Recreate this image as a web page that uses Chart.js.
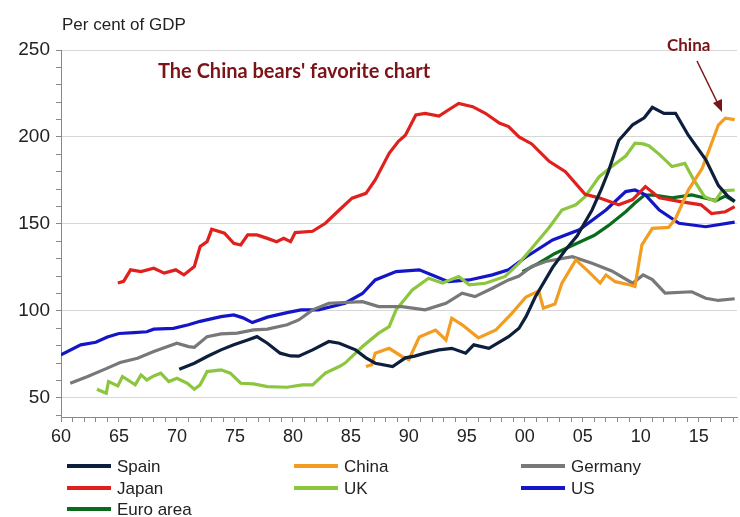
<!DOCTYPE html>
<html>
<head>
<meta charset="utf-8">
<script src="https://cdn.jsdelivr.net/npm/chart.js@4"></script>
<style>
  body { margin: 0; background: #fff; }
  #wrap { width: 740px; height: 517px; }
</style>
</head>
<body>
<div id="wrap"><canvas id="chart" width="740" height="517"></canvas></div>
<script>
// Debt of the non-financial private sector, per cent of GDP [year, value]
const spain = [[1970.2,66.5],[1971.5,69.9],[1972.6,73.8],[1973.8,77.6],[1974.9,80.5],[1976.1,83.3],[1976.9,85.2],[1977.8,81.4],[1978.9,75.7],[1979.8,74.1],[1980.5,74],[1981.7,77.6],[1983.1,82.4],[1984,81.4],[1985.4,77.6],[1986.3,73],[1987.1,69.9],[1988.6,68],[1989.7,73],[1990.5,74],[1991.4,75.7],[1992.6,77.6],[1993.7,78.5],[1994.9,75.7],[1995.6,80.5],[1996.9,78.5],[1998.6,85.2],[1999.5,90],[2000.1,96.7],[2000.9,108],[2002.4,125],[2003.5,135],[2004.5,143],[2005.8,158],[2006.6,170],[2007.2,180],[2008.1,198],[2009.3,207],[2010.3,211],[2011,217],[2012,213.6],[2013,213.6],[2014.1,201],[2015.6,187],[2016.7,172],[2017.5,166],[2018.1,163]];
const china = [[1986.3,68],[1986.8,69],[1987.1,75.7],[1988.3,78.5],[1989.4,73.8],[1990,72],[1990.9,85],[1992.3,89],[1993.2,83.3],[1993.7,95.8],[1994.6,92],[1996,84.5],[1997.5,89],[1998.9,98.7],[2000.1,108],[2001.2,111.5],[2001.6,101.6],[2002.6,104],[2003.2,116],[2004.4,129.3],[2005.5,122.6],[2006.5,116],[2007,120.7],[2007.8,116.8],[2009,115],[2009.5,114],[2010.1,138],[2011,147.5],[2012.4,148],[2013,153],[2014.1,169.5],[2015.3,182],[2016.7,207],[2017.3,210.8],[2018.1,210]];
const germany = [[1960.8,58.4],[1962.3,62.3],[1964,67.1],[1965.1,70.3],[1966.6,72.8],[1968,76.6],[1969.2,79.5],[1970,81.4],[1971,79.5],[1971.5,79.1],[1972.6,85.2],[1973.8,86.8],[1975.2,87.2],[1976.6,89.1],[1977.8,89.5],[1979.5,92],[1980.5,94.8],[1981.7,100.6],[1983.1,104.4],[1986,105.3],[1987.4,102.5],[1989.4,102.5],[1991.4,100.6],[1993.2,104.4],[1994.6,110.2],[1995.7,108.2],[1997.2,113],[1998.6,117.8],[1999.5,120],[2000.6,125.5],[2001.8,128.4],[2004.1,131.2],[2005.8,127.4],[2007.5,123],[2009.3,115.9],[2010.2,120.7],[2011,118],[2012.1,110.2],[2014.4,111],[2015.6,107.3],[2016.7,106],[2018.1,107]];
const japan = [[1964.9,116],[1965.4,117],[1966,123.6],[1966.9,122.6],[1968,124.5],[1968.9,121.7],[1969.9,123.6],[1970.6,120.7],[1971.5,125.5],[1972,137],[1972.6,139.8],[1973,146.9],[1974.1,144.7],[1974.9,138.9],[1975.5,137.9],[1976.1,143.7],[1976.9,143.7],[1977.8,141.7],[1978.6,139.8],[1979.2,141.7],[1979.8,139.8],[1980.2,145],[1981.7,145.8],[1982.8,150.4],[1984,158],[1985.1,164.8],[1986.3,167.6],[1987.1,175.3],[1988.3,190.6],[1989.1,197.5],[1989.7,201],[1990.6,212.6],[1991.4,213.6],[1992.6,212],[1993.4,215.5],[1994.3,219.3],[1995.5,217.4],[1996.6,213.6],[1997.8,208],[1998.6,206],[1999.5,200],[2000.6,196],[2002.1,186],[2003.5,180],[2005.2,167],[2006.4,165],[2008.1,161],[2009.3,164],[2010.4,171.5],[2011.6,165],[2013.3,163],[2015.2,161],[2016.1,156],[2017.3,157],[2018.1,160]];
const uk = [[1963.1,55],[1963.9,52.7],[1964.1,59.4],[1964.9,56.9],[1965.3,62.3],[1966.4,57.5],[1966.9,63.2],[1967.4,60.3],[1968,62.6],[1968.6,64.2],[1969.3,59.4],[1970,61.3],[1970.9,58.4],[1971.5,55],[1972,57.5],[1972.6,65.1],[1973.8,66.1],[1974.6,64.2],[1975.5,58.4],[1976.6,58],[1977.8,56.5],[1979.5,56.1],[1980.8,57.5],[1981.7,57.5],[1982.8,64.2],[1984,68],[1984.5,70],[1986,79.5],[1987.4,87.2],[1988.3,91],[1988.9,100.6],[1990.3,112],[1991.7,118.8],[1992.9,116],[1994.3,119.8],[1995.2,115],[1996.6,115.9],[1998.3,119.8],[1999.5,127.4],[2000.6,136],[2002.1,148],[2003.2,158],[2004.4,161],[2005.2,165.7],[2006.4,177],[2007.5,183],[2008.7,189],[2009.5,196.4],[2010.2,196],[2010.7,195],[2011.6,190],[2012.7,183],[2013.8,184.8],[2014.6,175],[2015.5,165.7],[2016.4,163],[2017,169],[2018.1,169.5]];
const us = [[1960,74.7],[1961.7,80.5],[1963,82],[1964,85],[1965,87],[1966.3,87.5],[1967.4,88],[1968,89.5],[1969.7,90],[1971,92],[1972,94],[1973.8,96.7],[1974.9,97.7],[1975.7,96],[1976.5,93.3],[1977.8,96.4],[1979.5,99],[1980.7,100.6],[1982.2,100.6],[1984.5,104.4],[1986,110],[1987.1,117.8],[1988.9,122.6],[1990.9,123.6],[1992,120.7],[1993.4,116.8],[1995.2,117.8],[1997.2,120.7],[1998.6,123.6],[2000.1,131],[2002.4,140.8],[2004.7,146.6],[2007,158],[2008.7,168.6],[2009.5,169.5],[2010.4,166.7],[2011.6,158],[2013.3,150.4],[2015.6,148.4],[2018.1,151]];
const euroArea = [[1999.8,122.6],[2001.2,127.4],[2002.6,133],[2004.7,139.5],[2006,143.5],[2007.2,149],[2008.7,157],[2009.5,162],[2010.3,166.5],[2011,166.7],[2012.7,165],[2014.4,166.7],[2015.6,164.8],[2016.5,163.5],[2017.3,166],[2018.1,162.8]];

const seriesNames = ['Spain', 'China', 'Germany', 'Japan', 'UK', 'US', 'Euro area'];
const seriesData = [spain, china, germany, japan, uk, us, euroArea];
const seriesColors = ['#0d1f3c', '#f39c1f', '#787878', '#e0201c', '#8cc63e', '#1515c8', '#0b6b1c'];

const yLabelTicks = [50, 100, 150, 200, 250];
const xLabelYears = [1960, 1965, 1970, 1975, 1980, 1985, 1990, 1995, 2000, 2005, 2010, 2015];

const TEXT_FONT = '"Liberation Sans", Arial, sans-serif';
const RED_TEXT = '#7b1416';

// legend (3 columns) and annotations drawn on the canvas
const extras = {
    id: 'extras',
    afterDraw(chart) {
        const ctx = chart.ctx;
        ctx.save();
        // unit label
        ctx.fillStyle = '#222';
        ctx.font = '17px ' + TEXT_FONT;
        ctx.textBaseline = 'middle';
        ctx.fillText('Per cent of GDP', 62, 25);

        // annotations
        ctx.fillStyle = RED_TEXT;
        ctx.font = 'bold 20px Lato, sans-serif';
        ctx.fillText("The China bears' favorite chart", 158, 72);
        ctx.font = 'bold 17px Lato, sans-serif';
        ctx.fillText('China', 667, 46);

        // arrow
        ctx.strokeStyle = RED_TEXT;
        ctx.lineWidth = 1.5;
        ctx.beginPath();
        ctx.moveTo(697, 61);
        ctx.lineTo(720, 108);
        ctx.stroke();
        ctx.beginPath();
        ctx.moveTo(722, 112);
        ctx.lineTo(713, 103);
        ctx.lineTo(722, 99);
        ctx.closePath();
        ctx.fillStyle = RED_TEXT;
        ctx.fill();

        // legend
        const colX = [67, 294, 521];
        const rowY = [466, 488, 509];
        ctx.font = '17px ' + TEXT_FONT;
        chart.data.datasets.forEach((ds, i) => {
            const x = colX[i % 3];
            const y = rowY[Math.floor(i / 3)];
            ctx.strokeStyle = ds.borderColor;
            ctx.lineWidth = 4;
            ctx.beginPath();
            ctx.moveTo(x, y);
            ctx.lineTo(x + 44, y);
            ctx.stroke();
            ctx.fillStyle = '#222';
            ctx.fillText(ds.label, x + 50, y + 1);
        });
        ctx.restore();
    }
};

new Chart(document.getElementById('chart'), {
    type: 'line',
    data: {
        datasets: seriesNames.map((name, i) => ({
            label: name,
            data: seriesData[i].map(p => ({ x: p[0], y: p[1] })),
            borderColor: seriesColors[i],
            backgroundColor: seriesColors[i],
            borderWidth: 3.2,
            pointRadius: 0,
            tension: 0
        }))
    },
    options: {
        responsive: false,
        animation: false,
        devicePixelRatio: 1,
        layout: { padding: { top: 50, right: 3, left: 0, bottom: 0 } },
        plugins: { legend: { display: false }, tooltip: { enabled: false } },
        scales: {
            x: {
                type: 'linear',
                min: 1960,
                max: 2018.3,
                afterBuildTicks: scale => {
                    const t = [];
                    for (let y = 1960; y <= 2018; y++) t.push({ value: y });
                    scale.ticks = t;
                },
                afterFit: scale => { scale.height = 100; },
                grid: { drawOnChartArea: false, tickLength: 5, color: '#888', tickColor: '#888' },
                border: { color: '#888' },
                ticks: {
                    autoSkip: false,
                    maxRotation: 0,
                    padding: 4,
                    color: '#222',
                    font: { family: TEXT_FONT, size: 18 },
                    callback: v => xLabelYears.includes(v) ? String(v).slice(2) : ''
                }
            },
            y: {
                min: 39,
                max: 250,
                afterBuildTicks: scale => {
                    const t = [];
                    for (let v = 40; v <= 250; v += 10) t.push({ value: v });
                    scale.ticks = t;
                },
                afterFit: scale => { scale.width = 61; },
                grid: {
                    tickLength: 5,
                    color: ctx => yLabelTicks.includes(ctx.tick && ctx.tick.value) ? '#d6d6d6' : 'rgba(0,0,0,0)',
                    tickColor: '#888'
                },
                border: { color: '#888' },
                ticks: {
                    autoSkip: false,
                    padding: 6,
                    color: '#222',
                    font: { family: TEXT_FONT, size: 19 },
                    callback: v => yLabelTicks.includes(v) ? v : ''
                }
            }
        }
    },
    plugins: [extras]
});
</script>
</body>
</html>
